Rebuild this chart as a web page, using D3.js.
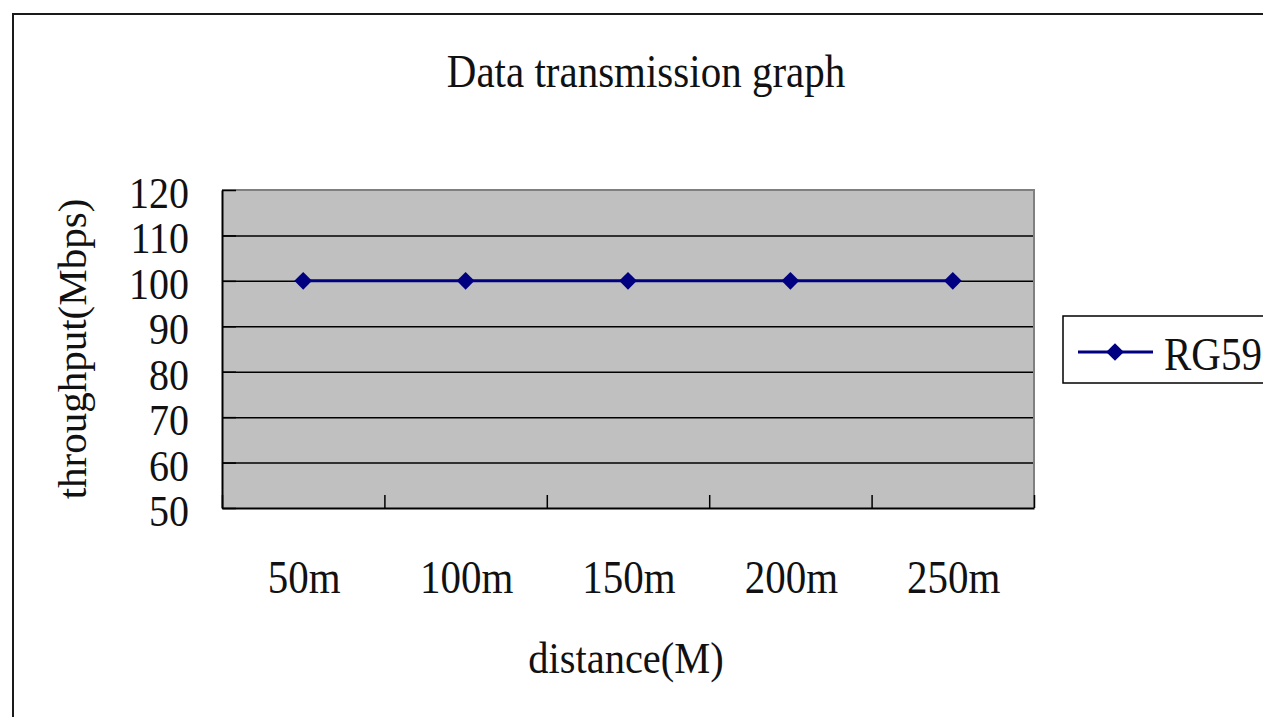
<!DOCTYPE html>
<html>
<head>
<meta charset="utf-8">
<script src="https://cdn.jsdelivr.net/npm/d3@7"></script>
<style>
	body { margin: 0; background: #fff; }
	text { font-family: 'Liberation Serif', 'Times New Roman', serif; fill: #111; }
</style>
</head>
<body>
<svg id="chart"></svg>
<script>
const categories = ['50m', '100m', '150m', '200m', '250m']
const rg59 = [100, 100, 100, 100, 100]
const yTicks = [50, 60, 70, 80, 90, 100, 110, 120]
const seriesName = 'RG59'

function chart() {
	const width = 1263
	const height = 717
	const stretch = 1.12

	const plot = { left: 222, right: 1034, top: 190, bottom: 508 }

	const svg = d3.select('#chart').attr('width', width).attr('height', height)

	const xScale = d3
		.scaleBand()
		.domain(categories)
		.range([plot.left, plot.right])
		.padding(0)
	const yScale = d3.scaleLinear().domain([50, 120]).range([plot.bottom, plot.top])

	const data = categories.map((c, i) => ({ cat: c, value: rg59[i] }))

	// outer chart frame (runs off the right and bottom edges)
	svg
		.append('rect')
		.attr('x', 13)
		.attr('y', 14)
		.attr('width', 1400)
		.attr('height', 900)
		.attr('fill', 'none')
		.attr('stroke', '#1a1a1a')
		.attr('stroke-width', 2)

	const label = (x, y, txt, size, anchor) =>
		svg
			.append('text')
			.attr('transform', `translate(${x},${y}) scale(1,${stretch})`)
			.attr('text-anchor', anchor || 'middle')
			.attr('font-size', size)
			.text(txt)

	label(646, 87, 'Data transmission graph', 41)

	// plot background
	svg
		.append('rect')
		.attr('x', plot.left)
		.attr('y', plot.top)
		.attr('width', plot.right - plot.left)
		.attr('height', plot.bottom - plot.top)
		.attr('fill', '#c0c0c0')

	// gridlines
	svg
		.append('g')
		.attr('transform', `translate(${plot.left},0)`)
		.call(
			d3
				.axisLeft(yScale)
				.tickValues(yTicks.filter(d => d > 50 && d < 120))
				.tickSize(-(plot.right - plot.left))
				.tickFormat('')
		)
		.call(g => g.select('.domain').remove())
		.selectAll('line')
		.attr('stroke', '#000')
		.attr('stroke-width', 1.5)

	// top and right border in gray
	svg
		.append('path')
		.attr('d', `M${plot.left},${plot.top}H${plot.right}V${plot.bottom}`)
		.attr('fill', 'none')
		.attr('stroke', '#808080')
		.attr('stroke-width', 2)

	// y axis with inward ticks
	const yAxis = svg
		.append('g')
		.attr('transform', `translate(${plot.left},0)`)
		.call(d3.axisLeft(yScale).tickValues(yTicks).tickSize(-14).tickSizeOuter(0).tickFormat(''))
	yAxis.select('.domain').attr('stroke', '#000').attr('stroke-width', 2)
	yAxis.selectAll('line').attr('stroke', '#000').attr('stroke-width', 1.5)

	// x axis with inward ticks at band edges
	const xEdges = categories.map(c => xScale(c)).concat([plot.right])
	const xEdgeScale = d3.scaleLinear().domain([plot.left, plot.right]).range([plot.left, plot.right])
	const xAxis = svg
		.append('g')
		.attr('transform', `translate(0,${plot.bottom})`)
		.call(d3.axisBottom(xEdgeScale).tickValues(xEdges).tickSize(-13).tickSizeOuter(0).tickFormat(''))
	xAxis.select('.domain').attr('stroke', '#000').attr('stroke-width', 2)
	xAxis.selectAll('line').attr('stroke', '#000').attr('stroke-width', 1.5)

	// y tick labels
	svg
		.selectAll('.ylab')
		.data(yTicks)
		.join('text')
		.attr('class', 'ylab')
		.attr('transform', d => `translate(189,${yScale(d) + 18}) scale(1,${stretch})`)
		.attr('text-anchor', 'end')
		.attr('font-size', 40)
		.text(d => d)

	// x tick labels
	svg
		.selectAll('.xlab')
		.data(categories)
		.join('text')
		.attr('class', 'xlab')
		.attr('transform', d => `translate(${xScale(d) + xScale.bandwidth() / 2 + 1},593) scale(1,${stretch})`)
		.attr('text-anchor', 'middle')
		.attr('font-size', 41)
		.text(d => d)

	label(626, 673, 'distance(M)', 40.5)

	svg
		.append('text')
		.attr('transform', `translate(86,349) rotate(-90)`)
		.attr('text-anchor', 'middle')
		.attr('font-size', 41)
		.text('throughput(Mbps)')

	// series
	const cx = d => xScale(d.cat) + xScale.bandwidth() / 2
	svg
		.append('path')
		.datum(data)
		.attr('fill', 'none')
		.attr('stroke', '#000080')
		.attr('stroke-width', 3)
		.attr(
			'd',
			d3
				.line()
				.x(cx)
				.y(d => yScale(d.value))
		)

	const diamond = d3.symbol().type(d3.symbolDiamond2).size(200)
	svg
		.selectAll('.pt')
		.data(data)
		.join('path')
		.attr('class', 'pt')
		.attr('transform', d => `translate(${cx(d)},${yScale(d.value)})`)
		.attr('d', diamond)
		.attr('fill', '#000080')

	// legend
	svg
		.append('rect')
		.attr('x', 1063)
		.attr('y', 316)
		.attr('width', 260)
		.attr('height', 67)
		.attr('fill', '#fff')
		.attr('stroke', '#000')
		.attr('stroke-width', 1.5)
	svg
		.append('line')
		.attr('x1', 1078)
		.attr('x2', 1153)
		.attr('y1', 352)
		.attr('y2', 352)
		.attr('stroke', '#000080')
		.attr('stroke-width', 3)
	svg
		.append('path')
		.attr('transform', 'translate(1115,352)')
		.attr('d', diamond)
		.attr('fill', '#000080')
	label(1164, 370, seriesName, 41, 'start')
}

chart()
</script>
</body>
</html>
